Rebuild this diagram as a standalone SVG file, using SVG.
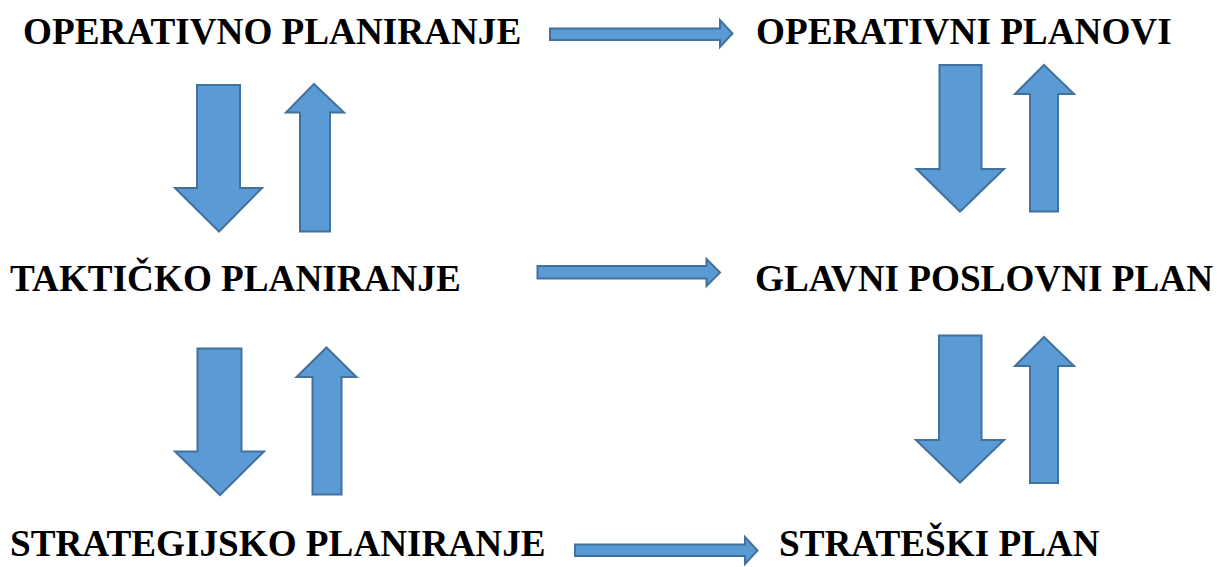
<svg xmlns="http://www.w3.org/2000/svg" width="1228" height="567" viewBox="0 0 1228 567">
<style>
text{font-family:'Liberation Serif','Times New Roman',serif;font-weight:700;font-size:37.2px;fill:#000}
.arr{fill:#5B9BD5;stroke:#41719C;stroke-width:2;stroke-linejoin:miter}
</style>
<rect width="1228" height="567" fill="#fff"/>
<g id="n-operativno-planiranje"><text x="23" y="44">OPERATIVNO PLANIRANJE</text></g>
<g id="n-operativni-planovi"><text x="756" y="44">OPERATIVNI PLANOVI</text></g>
<g id="n-takticko-planiranje"><text x="10" y="291">TAKTIČKO PLANIRANJE</text></g>
<g id="n-glavni-poslovni-plan"><text x="755" y="291">GLAVNI POSLOVNI PLAN</text></g>
<g id="n-strategijsko-planiranje"><text x="10" y="556">STRATEGIJSKO PLANIRANJE</text></g>
<g id="n-strateski-plan"><text x="779" y="556">STRATEŠKI PLAN</text></g>
<g id="connectors">
  <polygon class="arr" points="550,28.5 720,28.5 720,20 732.5,33.5 720,47 720,40 550,40"/>
  <polygon class="arr" points="537.5,266 706.5,266 706.5,259 720,272.5 706.5,286 706.5,278.5 537.5,278.5"/>
  <polygon class="arr" points="575,544.5 745,544.5 745,537 757.5,550.5 745,564 745,556 575,556"/>
  <polygon class="arr" points="197,85 240,85 240,188 262,188 219,231.5 175,188 197,188"/>
  <polygon class="arr" points="314,84 344,112.5 330,112.5 330,231.5 300,231.5 300,112.5 286,112.5"/>
  <polygon class="arr" points="197.5,348.5 241.5,348.5 241.5,451.5 264,451.5 220,495 175,451.5 197.5,451.5"/>
  <polygon class="arr" points="326.5,347.5 356.5,377 341.5,377 341.5,494.5 312.5,494.5 312.5,377 296.5,377"/>
  <polygon class="arr" points="939.5,65 981.5,65 981.5,169 1004,169 960,211.5 916.5,169 939.5,169"/>
  <polygon class="arr" points="1044,65 1074,94 1058,94 1058,211.5 1030,211.5 1030,94 1015,94"/>
  <polygon class="arr" points="939,335.5 981.5,335.5 981.5,440 1004,440 960,482.5 916,440 939,440"/>
  <polygon class="arr" points="1044,337 1074,366 1058,366 1058,483 1030,483 1030,366 1015,366"/>
</g>
</svg>
